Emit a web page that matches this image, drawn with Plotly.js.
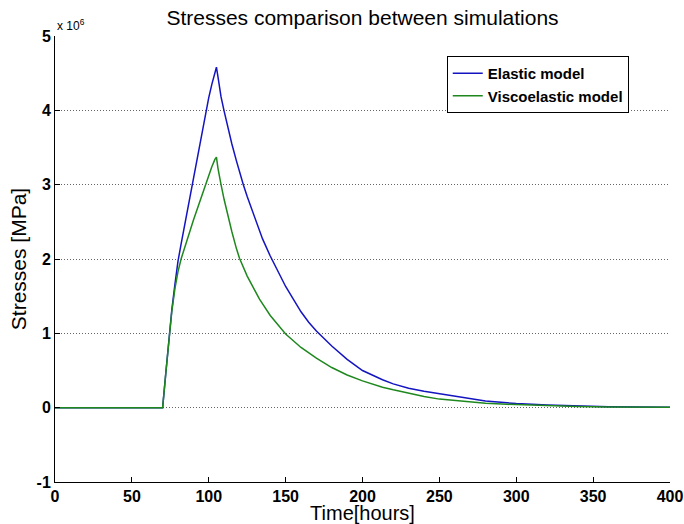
<!DOCTYPE html>
<html>
<head>
<meta charset="utf-8">
<script src="https://cdn.plot.ly/plotly-3.0.1.min.js"></script>
<style>html,body{margin:0;padding:0;background:#fff;}#chart{width:684px;height:524px;}</style>
</head>
<body>
<div id="chart"></div>
<script>
// Time in hours
const timeElastic = [0, 70, 72, 74, 76, 78, 80, 82, 84, 86, 88, 90, 92, 94, 96, 98, 100, 102, 104, 105,
  106, 108, 110, 112, 115, 118, 120, 122.5, 125, 130, 135, 140, 145, 150, 155, 160, 165, 170, 180, 190,
  200, 213, 220, 230, 240, 250, 260, 270, 280, 294, 300, 320, 340, 360, 380, 400];
// Stress in units of 10^6 MPa
const stressElastic = [0, 0, 0.45, 0.91, 1.32, 1.66, 1.97, 2.2, 2.42, 2.64, 2.87, 3.09, 3.32, 3.55, 3.77, 3.98, 4.17, 4.35, 4.52, 4.58,
  4.45, 4.18, 3.99, 3.8, 3.55, 3.32, 3.17, 3.0, 2.84, 2.54, 2.27, 2.04, 1.83, 1.63, 1.46, 1.29, 1.15, 1.03, 0.83, 0.65,
  0.5, 0.375, 0.32, 0.26, 0.22, 0.19, 0.16, 0.12, 0.09, 0.065, 0.055, 0.035, 0.022, 0.013, 0.008, 0.005];

const timeVisco = [0, 70, 72, 74, 76, 78, 80, 82, 84, 86, 88, 90, 92, 94, 96, 98, 100, 102, 104, 105,
  106, 107, 108, 110, 112, 115, 118, 120, 125, 130, 133, 140, 145, 150, 160, 170, 180, 190,
  200, 213, 220, 230, 240, 250, 260, 270, 280, 294, 300, 320, 340, 360, 380, 400];
const stressVisco = [0, 0, 0.45, 0.91, 1.3, 1.6, 1.83, 2.0, 2.14, 2.27, 2.39, 2.52, 2.64, 2.77, 2.9, 3.02, 3.13, 3.24, 3.34, 3.37,
  3.22, 3.1, 3.0, 2.8, 2.61, 2.37, 2.14, 2.01, 1.77, 1.57, 1.46, 1.24, 1.11, 0.99, 0.81, 0.665, 0.54, 0.44,
  0.36, 0.275, 0.24, 0.19, 0.15, 0.115, 0.095, 0.075, 0.06, 0.045, 0.04, 0.025, 0.015, 0.01, 0.006, 0.004];

const xTicks = [0, 50, 100, 150, 200, 250, 300, 350, 400];
const yTicks = [-1, 0, 1, 2, 3, 4, 5];
const seriesNames = ['Elastic model', 'Viscoelastic model'];

const FONT = 'Liberation Sans, Arial, sans-serif';
const tickFont = {family: FONT, size: 16, color: '#000', weight: 'bold'};

const traces = [
  {x: timeElastic, y: stressElastic, type: 'scatter', mode: 'lines', name: seriesNames[0],
   line: {color: '#1414c0', width: 1.5}},
  {x: timeVisco, y: stressVisco, type: 'scatter', mode: 'lines', name: seriesNames[1],
   line: {color: '#1e881e', width: 1.5}}
];

const layout = {
  width: 684, height: 524,
  margin: {l: 55, r: 14, t: 36, b: 42},
  paper_bgcolor: '#fff', plot_bgcolor: '#fff',
  showlegend: true,
  title: {text: 'Stresses comparison between simulations', xref: 'paper', x: 0.5, xanchor: 'center',
    y: 15, yref: 'container', yanchor: 'middle',
    font: {family: FONT, size: 21, color: '#000'}},
  xaxis: {
    range: [0, 400], tickvals: xTicks, ticktext: xTicks.map(String),
    showline: true, linecolor: '#000', linewidth: 1, mirror: false,
    ticks: 'inside', ticklen: 5, tickcolor: '#000', showgrid: false, zeroline: false,
    tickfont: tickFont,
    title: {text: 'Time[hours]', standoff: 0, font: {family: FONT, size: 20, color: '#000'}}
  },
  yaxis: {
    range: [-1, 5], tickvals: yTicks, ticktext: yTicks.map(String),
    showline: true, linecolor: '#000', linewidth: 1, mirror: false,
    ticks: 'inside', ticklen: 5, tickcolor: '#000',
    showgrid: true, gridcolor: '#666', griddash: '1px,2px', gridwidth: 1, zeroline: false,
    tickfont: tickFont,
    title: {text: 'Stresses [MPa]', standoff: 4, font: {family: FONT, size: 21, color: '#000'}}
  },
  legend: {
    x: 0.637, y: 0.955, xanchor: 'left', yanchor: 'top',
    bgcolor: '#fff', bordercolor: '#000', borderwidth: 1,
    font: {family: FONT, size: 15, color: '#000', weight: 'bold'},
    tracegroupgap: 0, itemwidth: 30
  },
  annotations: [{
    xref: 'paper', yref: 'paper', x: 0, y: 1, xanchor: 'left', yanchor: 'bottom', xshift: 0, yshift: 1,
    text: 'x 10<sup>6</sup>', showarrow: false,
    font: {family: FONT, size: 12, color: '#000'}
  }]
};

Plotly.newPlot('chart', traces, layout, {displayModeBar: false, staticPlot: true});
</script>
</body>
</html>
